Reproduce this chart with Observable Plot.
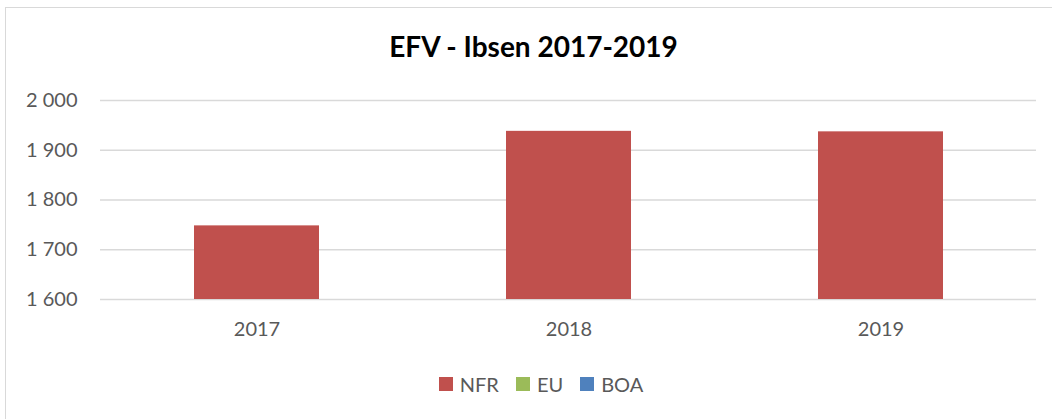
<!DOCTYPE html>
<html>
<head>
<meta charset="utf-8">
<script src="https://cdn.jsdelivr.net/npm/d3@7"></script>
<script src="https://cdn.jsdelivr.net/npm/@observablehq/plot@0.6"></script>
<style>
  html, body { margin: 0; padding: 0; background: #fff; }
  #chart { position: relative; width: 1052px; height: 419px; overflow: hidden; font-family: Lato, "Liberation Sans", sans-serif; }
  #frame { position: absolute; left: 5px; top: 7px; width: 1060px; height: 430px; border: 1.5px solid #d9d9d9; box-sizing: border-box; }
  #title { position: absolute; left: 5px; right: -10px; top: 29px; text-align: center; font-size: 28px; font-weight: bold; color: #000; }
  #plot { position: absolute; left: 0; top: 0; }
  #legend { position: absolute; left: 0; width: 1082px; top: 372px; display: flex; justify-content: center; gap: 17px; font-size: 20px; color: #595959; }
  .item { display: flex; align-items: center; gap: 7px; }
  .sw { width: 14px; height: 14px; display: inline-block; }
</style>
</head>
<body>
<div id="chart">
  <div id="frame"></div>
  <div id="title"></div>
  <div id="plot"></div>
  <div id="legend"></div>
</div>
<script>
const title = "EFV - Ibsen 2017-2019";
const years = ["2017", "2018", "2019"];
const nfr = [1748, 1938, 1937];
const series = ["NFR", "EU", "BOA"];
const seriesColors = ["#C0504D", "#9BBB59", "#4F81BD"];
const yTicks = [1600, 1700, 1800, 1900, 2000];

document.getElementById("title").textContent = title;

const data = years.map((y, i) => ({year: y, value: nfr[i], series: "NFR"}));
const fmt = v => d3.format(",")(v).replace(/,/g, " ");

const plot = Plot.plot({
  width: 1052,
  height: 350,
  marginTop: 100,
  marginBottom: 51,
  marginLeft: 100,
  marginRight: 16,
  style: {fontFamily: "Lato, 'Liberation Sans', sans-serif", fontSize: "20px", color: "#595959", background: "transparent"},
  x: {domain: years, paddingInner: 0.6, paddingOuter: 0.3, label: null, tickSize: 0, tickPadding: 22},
  y: {domain: [1600, 2000], ticks: yTicks, tickFormat: fmt, label: null, tickSize: 0, tickPadding: 23},
  color: {domain: series, range: seriesColors},
  marks: [
    Plot.gridY(yTicks, {stroke: "#d9d9d9", strokeOpacity: 1, strokeWidth: 1.3}),
    Plot.barY(data, {x: "year", y1: 1600, y2: "value", fill: "series"}),
    Plot.axisY({ticks: yTicks, tickFormat: fmt, tickSize: 0, tickPadding: 23, label: null}),
    Plot.axisX({tickSize: 0, tickPadding: 22, label: null})
  ]
});
document.getElementById("plot").appendChild(plot);

const legend = document.getElementById("legend");
series.forEach((s, i) => {
  const item = document.createElement("div");
  item.className = "item";
  const sw = document.createElement("span");
  sw.className = "sw";
  sw.style.background = seriesColors[i];
  const t = document.createElement("span");
  t.textContent = s;
  item.appendChild(sw);
  item.appendChild(t);
  legend.appendChild(item);
});
</script>
</body>
</html>
